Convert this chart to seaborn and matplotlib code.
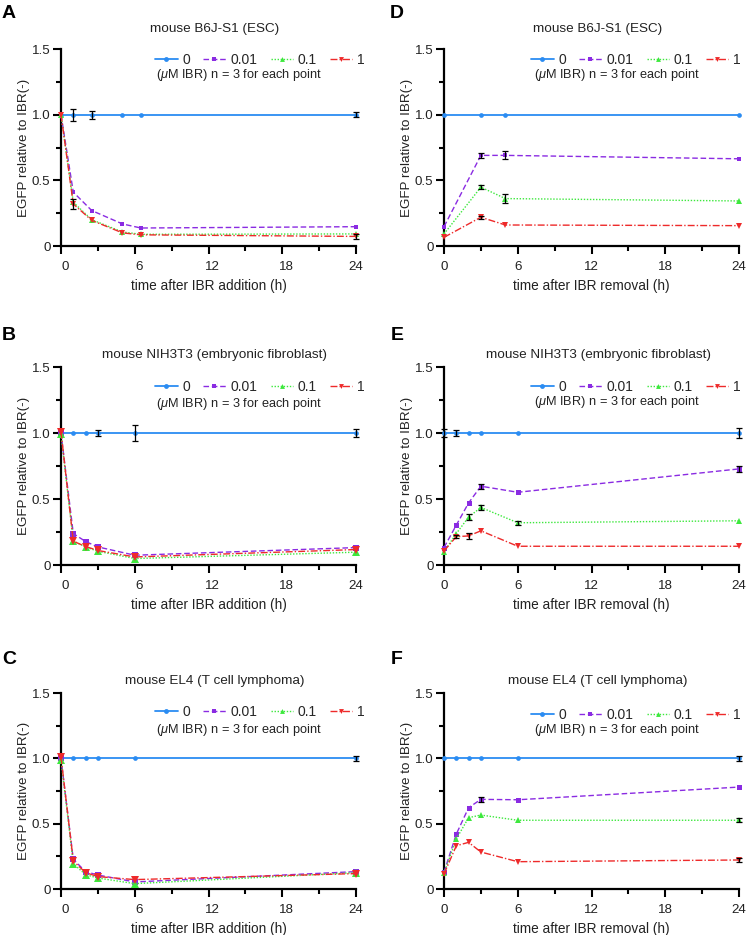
import matplotlib
matplotlib.use("Agg")
import matplotlib.pyplot as plt
import matplotlib.transforms as mtransforms
from matplotlib.lines import Line2D
from matplotlib.ticker import MultipleLocator
import seaborn as sns
import pandas as pd

# ---- data ----
DOSES = ['0', '0.01', '0.1', '1']

# A: ESC, IBR addition
A_t = [0, 1, 2.5, 5, 6.5, 24]
A_0 = [1.0, 1.0, 1.0, 1.0, 1.0, 1.0]
A_001 = [1.0, 0.41, 0.27, 0.168, 0.137, 0.147]
A_01 = [1.0, 0.333, 0.20, 0.107, 0.089, 0.092]
A_1 = [1.0, 0.32, 0.195, 0.10, 0.085, 0.073]
A_e0 = [0, 0.045, 0.03, 0, 0, 0.02]
A_e1 = [0, 0.035, 0, 0, 0, 0.02]

# B: NIH3T3, IBR addition
B_t = [0, 1, 2, 3, 6, 24]
B_0 = [1.0, 1.0, 1.0, 1.0, 1.0, 1.0]
B_001 = [1.0, 0.238, 0.178, 0.137, 0.074, 0.132]
B_01 = [0.99, 0.182, 0.137, 0.104, 0.049, 0.097]
B_1 = [1.01, 0.18, 0.14, 0.11, 0.061, 0.117]
B_e0 = [0, 0, 0, 0.02, 0.06, 0.03]

# C: EL4, IBR addition
C_t = [0, 1, 2, 3, 6, 24]
C_0 = [1.0, 1.0, 1.0, 1.0, 1.0, 1.0]
C_001 = [1.0, 0.227, 0.133, 0.107, 0.054, 0.133]
C_01 = [0.99, 0.194, 0.11, 0.084, 0.041, 0.125]
C_1 = [1.01, 0.215, 0.125, 0.095, 0.072, 0.118]
C_e0 = [0, 0, 0, 0, 0, 0.02]

# D: ESC, IBR removal
D_t = [0, 3, 5, 24]
D_0 = [1.0, 1.0, 1.0, 1.0]
D_001 = [0.147, 0.69, 0.69, 0.664]
D_01 = [0.092, 0.448, 0.361, 0.343]
D_1 = [0.066, 0.219, 0.16, 0.155]
D_e001 = [0, 0.02, 0.03, 0]
D_e01 = [0, 0.015, 0.035, 0]
D_e1 = [0, 0.01, 0, 0]

# E: NIH3T3, IBR removal
E_t = [0, 1, 2, 3, 6, 24]
E_0 = [1.0, 1.0, 1.0, 1.0, 1.0, 1.0]
E_001 = [0.132, 0.302, 0.47, 0.597, 0.551, 0.728]
E_01 = [0.101, 0.238, 0.363, 0.436, 0.32, 0.335]
E_1 = [0.106, 0.215, 0.22, 0.259, 0.142, 0.142]
E_e0 = [0.03, 0.02, 0, 0, 0, 0.04]
E_e001 = [0, 0, 0, 0.02, 0, 0.02]
E_e01 = [0, 0, 0.02, 0.02, 0.015, 0]
E_e1 = [0, 0.01, 0.02, 0, 0, 0]

# F: EL4, IBR removal
F_t = [0, 1, 2, 3, 6, 24]
F_0 = [1.0, 1.0, 1.0, 1.0, 1.0, 1.0]
F_001 = [0.128, 0.42, 0.622, 0.686, 0.683, 0.78]
F_01 = [0.12, 0.383, 0.546, 0.566, 0.526, 0.526]
F_1 = [0.115, 0.331, 0.357, 0.283, 0.209, 0.222]
F_e0 = [0, 0, 0, 0, 0, 0.02]
F_e001 = [0, 0, 0, 0.02, 0, 0]
F_e01 = [0, 0, 0, 0, 0, 0.015]
F_e1 = [0, 0, 0, 0, 0, 0.015]

X_TICKS = [0, 6, 12, 18, 24]
Y_TICKS = [0, 0.5, 1.0, 1.5]
Y_TICKLABELS = ['0', '0.5', '1.0', '1.5']

# ---- style ----
sns.set_theme(style='ticks')
plt.rcParams['font.family'] = ['Liberation Sans', 'DejaVu Sans']
plt.rcParams['mathtext.fontset'] = 'custom'
plt.rcParams['mathtext.it'] = 'Liberation Sans:italic'
plt.rcParams['mathtext.rm'] = 'Liberation Sans'

colors = ['#2B8CF2', '#8A2BE2', '#3DE83D', '#EE2A2A']
lstyles = ['-', (0, (4, 2)), (0, (1, 1.2)), (0, (5, 1.5, 1, 1.5))]
markers = ['o', 's', '^', 'v']
lwidths = [1.3, 1.0, 1.0, 1.0]
TXT = '#222222'

W, H = 748, 935
fig = plt.figure(figsize=(W / 100, H / 100), dpi=100)


def px(x, y):
    return x / W, 1 - y / H


panels = [
    # letter, title, xlabel, t, series, errors, axes box (l, top, w, h), legend y, note y, marker size, letter y
    ('A', 'mouse B6J-S1 (ESC)', 'time after IBR addition (h)', A_t,
     [A_0, A_001, A_01, A_1], [A_e0, None, None, A_e1], (61, 49, 295, 197), 60, 75, 3.3, 13),
    ('B', 'mouse NIH3T3 (embryonic fibroblast)', 'time after IBR addition (h)', B_t,
     [B_0, B_001, B_01, B_1], [B_e0, None, None, None], (61, 367, 295, 198), 387, 404, 4.6, 336),
    ('C', 'mouse EL4 (T cell lymphoma)', 'time after IBR addition (h)', C_t,
     [C_0, C_001, C_01, C_1], [C_e0, None, None, None], (61, 693, 295, 196), 712, 730, 5.0, 660),
    ('D', 'mouse B6J-S1 (ESC)', 'time after IBR removal (h)', D_t,
     [D_0, D_001, D_01, D_1], [None, D_e001, D_e01, D_e1], (444, 49, 295, 197), 60, 75, 3.3, 13),
    ('E', 'mouse NIH3T3 (embryonic fibroblast)', 'time after IBR removal (h)', E_t,
     [E_0, E_001, E_01, E_1], [E_e0, E_e001, E_e01, E_e1], (444, 367, 295, 198), 387, 402, 3.6, 336),
    ('F', 'mouse EL4 (T cell lymphoma)', 'time after IBR removal (h)', F_t,
     [F_0, F_001, F_01, F_1], [F_e0, F_e001, F_e01, F_e1], (444, 693, 295, 196), 715, 730, 3.6, 660),
]

for letter, title, xlabel, t, series, errs, box, leg_y, note_y, ms, let_y in panels:
    l, top, w, h = box
    left_col = l < 300
    ax = fig.add_axes([l / W, 1 - (top + h) / H, w / W, h / H])

    for i, (vals, err) in enumerate(zip(series, errs)):
        df = pd.DataFrame({'t': t, 'v': vals})
        size = 3.4 if i == 0 else ms * (1.0 if i == 1 else 1.25)
        sns.lineplot(data=df, x='t', y='v', ax=ax, color=colors[i], linestyle=lstyles[i],
                     linewidth=lwidths[i], marker=markers[i], markersize=size,
                     markeredgewidth=0, errorbar=None, clip_on=False, zorder=3 + i)
        if err is not None:
            sel = [k for k, e in enumerate(err) if e > 0]
            ax.errorbar([t[k] for k in sel], [vals[k] for k in sel], yerr=[err[k] for k in sel],
                        fmt='none', ecolor='black', elinewidth=0.9, capsize=2, capthick=0.9,
                        clip_on=False, zorder=8)

    ax.set_xlim(0, 24)
    ax.set_ylim(0, 1.5)
    ax.set_xticks(X_TICKS)
    ax.xaxis.set_minor_locator(MultipleLocator(3))
    ax.set_yticks(Y_TICKS)
    ax.set_yticklabels(Y_TICKLABELS)
    ax.yaxis.set_minor_locator(MultipleLocator(0.25))
    sns.despine(ax=ax)
    for s in ['left', 'bottom']:
        ax.spines[s].set_linewidth(1.6)
        ax.spines[s].set_color('black')
    ax.tick_params(which='major', length=6, width=1.5, color='black', labelsize=9.6,
                   labelcolor=TXT)
    ax.tick_params(which='minor', length=3.5, width=1.5, color='black')
    ax.tick_params(axis='x', which='major', pad=5)
    ax.tick_params(axis='y', which='major', pad=1.5)
    if left_col:
        off = mtransforms.ScaledTranslation(4 / 100, 0, fig.dpi_scale_trans)
        for tk in ax.xaxis.get_major_ticks()[:-1]:
            tk.label1.set_transform(tk.label1.get_transform() + off)

    ax.set_xlabel(xlabel, fontsize=9.8, color=TXT)
    ax.set_ylabel('EGFP relative to IBR(-)', fontsize=9.6, color=TXT)
    ax.xaxis.set_label_coords(0.5, -33 / h)
    ax.yaxis.set_label_coords(-31 / w, 0.5)
    ax.grid(False)

    handles = [Line2D([], [], color=colors[i], linestyle=lstyles[i], linewidth=lwidths[i],
                      marker=markers[i], markersize=3.5, markeredgewidth=0) for i in range(4)]
    lx = l + (199 if left_col else 192)
    ax.legend(handles, DOSES, ncol=4, loc='center', bbox_to_anchor=px(lx, leg_y),
              bbox_transform=fig.transFigure, frameon=False, fontsize=10,
              handlelength=1.6, handletextpad=0.35, columnspacing=0.95, borderpad=0)
    nx = l + (178 if left_col else 173)
    fig.text(*px(nx, note_y), r'($\mu$M IBR) n = 3 for each point', ha='center', va='center',
             fontsize=9.2, color=TXT)

    fig.text(*px(l + 154, (top - 20) if top < 100 else (top - 12)), title, ha='center',
             va='center', fontsize=9.7, color=TXT)
    fig.text(*px(l - 52 if left_col else l - 47, let_y), letter, ha='center', va='center',
             fontsize=14, fontweight='bold', color='black')

fig.savefig('out.png', dpi=100)
